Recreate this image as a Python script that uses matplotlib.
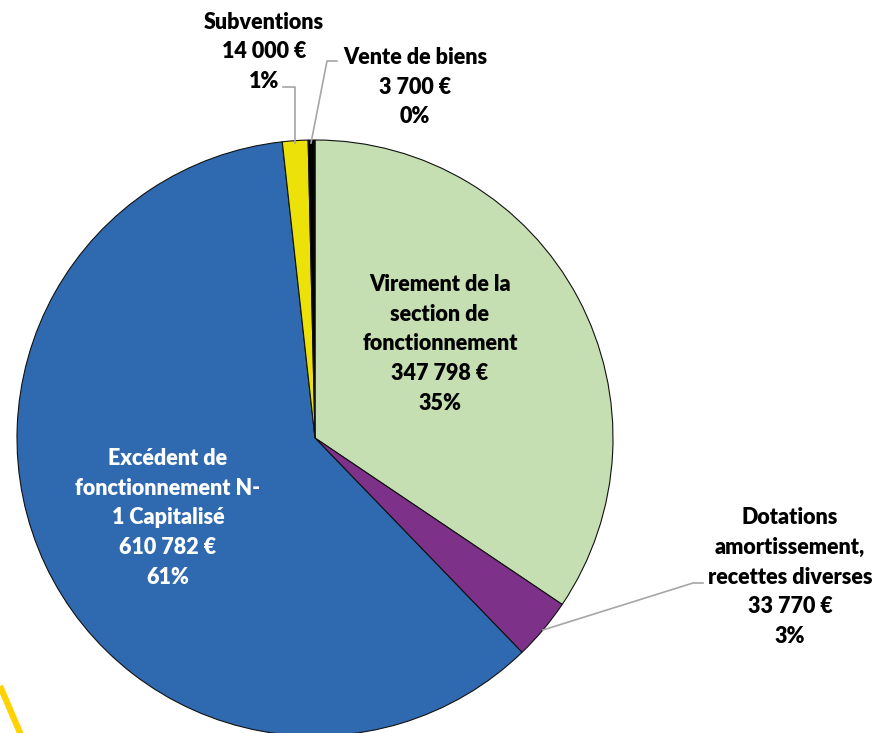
import matplotlib.pyplot as plt

labels = ["Virement de la\nsection de\nfonctionnement",
          "Dotations\namortissement,\nrecettes diverses",
          "Excédent de\nfonctionnement N-\n1 Capitalisé",
          "Subventions",
          "Vente de biens"]
values = [347798, 33770, 610782, 14000, 3700]
percents = [35, 3, 61, 1, 0]   # as printed on the chart
colors = ["#C5DFB3", "#7E3189", "#2F6AB1", "#EDE10A", "#000000"]
text_colors = ["#000000", "#000000", "#FFFFFF", "#000000", "#000000"]

H = 733
fig = plt.figure(figsize=(8.78, 7.33), dpi=100)
ax = fig.add_axes([0, 0, 1, 1])

cx, cy, r = 315, H - 438, 298
ax.pie(values, colors=colors, startangle=90, counterclock=False,
       center=(cx, cy), radius=r, frame=True,
       wedgeprops=dict(edgecolor="#111111", linewidth=0.8))
ax.set_xlim(0, 878)
ax.set_ylim(0, H)
ax.set_aspect("equal")
ax.axis("off")


def fmt(v):
    return f"{v:,}".replace(",", " ") + " €"


# label positions (pixel coords, y from top)
pos = [(440, 344), (790, 577), (168, 518), (264, 52), (415, 87)]
for lab, v, p, (x, y), c in zip(labels, values, percents, pos, text_colors):
    ax.text(x, H - y, f"{lab}\n{fmt(v)}\n{p}%", ha="center", va="center",
            color=c, fontsize=15.5, fontweight="heavy", family="Lato",
            linespacing=1.52)

# leader lines
gray = "#A6A6A6"
ax.plot([283, 295, 295], [H - 87, H - 87, H - 143], color=gray, lw=1.2)
ax.plot([337, 327, 311], [H - 61, H - 61, H - 143], color=gray, lw=1.2)
ax.plot([703, 693, 543], [H - 583, H - 583, H - 630], color=gray, lw=1.2)

# decorative yellow stroke in the corner
ax.plot([0, 21], [H - 686, H - 735], color="#FFD200", lw=4.5,
        solid_capstyle="butt", clip_on=False)

fig.savefig("out.png", dpi=100)
